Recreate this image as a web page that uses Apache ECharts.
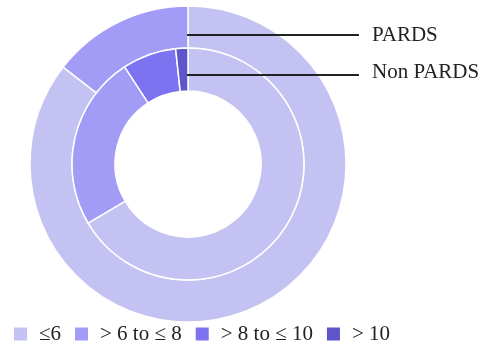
<!DOCTYPE html>
<html>
<head>
<meta charset="utf-8">
<script src="https://cdn.jsdelivr.net/npm/echarts@6/dist/echarts.min.js"></script>
<style>
  html, body { margin: 0; padding: 0; background: #fff; }
  #chart { width: 482px; height: 346px; }
</style>
</head>
<body>
<div id="chart"></div>
<script>
// Score bands shown in the legend
const categories = ['≤6', '> 6 to ≤ 8', '> 8 to ≤ 10', '> 10'];
// Share of patients (%) in each band
const pardsValues = [85.5, 14.5, 0, 0];
const nonPardsValues = [66.5, 24.3, 7.5, 1.7];
const groupNames = ['PARDS', 'Non PARDS'];

const bandColors = ['#c4c2f2', '#a29cf6', '#7d73f0', '#5d55c9'];
const serifFont = 'Liberation Serif';

function ringData(values) {
  return categories
    .map((name, i) => ({ name, value: values[i], itemStyle: { color: bandColors[i] } }))
    .filter(d => d.value > 0);
}

const center = [188, 164];
const ringStyle = { borderColor: '#ffffff', borderWidth: 1.5 };

const chart = echarts.init(document.getElementById('chart'), null, { renderer: 'canvas' });
chart.setOption({
  backgroundColor: '#ffffff',
  animation: false,
  legend: {
    data: categories,
    left: 7,
    top: 318,
    itemWidth: 15,
    itemHeight: 15,
    itemGap: 12,
    icon: 'rect',
    textStyle: {
      fontFamily: serifFont,
      fontSize: 21,
      color: '#222',
      lineHeight: 22,
      padding: [0, 0, 0, 6]
    }
  },
  series: [
    {
      name: groupNames[0],
      type: 'pie',
      center,
      radius: [116, 158],
      startAngle: 90,
      clockwise: true,
      label: { show: false },
      labelLine: { show: false },
      itemStyle: ringStyle,
      emphasis: { disabled: true },
      data: ringData(pardsValues)
    },
    {
      name: groupNames[1],
      type: 'pie',
      center,
      radius: [73, 116],
      startAngle: 90,
      clockwise: true,
      label: { show: false },
      labelLine: { show: false },
      itemStyle: ringStyle,
      emphasis: { disabled: true },
      data: ringData(nonPardsValues)
    }
  ],
  graphic: [
    { type: 'line', z: 100, shape: { x1: 187, y1: 35, x2: 359, y2: 35 }, style: { stroke: '#222', lineWidth: 2 } },
    { type: 'line', z: 100, shape: { x1: 187, y1: 75, x2: 359, y2: 75 }, style: { stroke: '#222', lineWidth: 2 } },
    { type: 'text', z: 100, left: 372, top: 25, style: { text: groupNames[0], fontFamily: serifFont, fontSize: 21, fill: '#222' } },
    { type: 'text', z: 100, left: 372, top: 62, style: { text: groupNames[1], fontFamily: serifFont, fontSize: 21, fill: '#222' } }
  ]
});
</script>
</body>
</html>
